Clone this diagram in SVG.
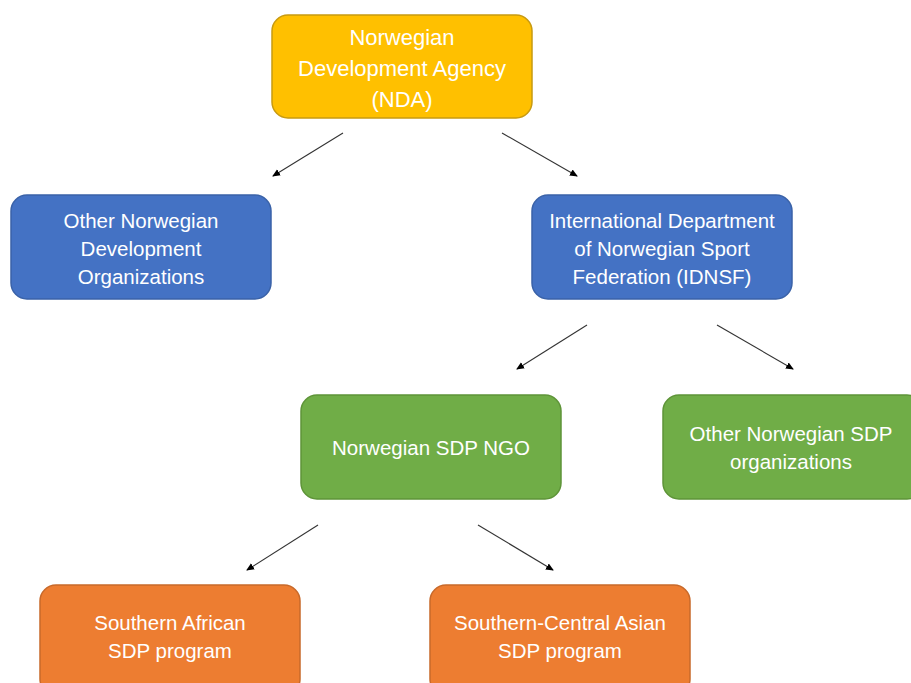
<svg xmlns="http://www.w3.org/2000/svg" width="911" height="683" viewBox="0 0 911 683">
<defs>
<marker id="ah" markerWidth="8" markerHeight="8" refX="7" refY="4" orient="auto" markerUnits="userSpaceOnUse">
<path d="M0,0.5 L8,4 L0,7.5 Z" fill="#000"/>
</marker>
</defs>
<style>
.box{stroke-width:1.5}
.y{fill:#FFC000;stroke:#C89A10}
.b{fill:#4472C4;stroke:#3A62A8}
.g{fill:#70AD47;stroke:#5E9438}
.o{fill:#ED7D31;stroke:#C8692A}
text{font-family:"Liberation Sans",Arial,sans-serif;fill:#fff;text-anchor:middle}
.t1{font-size:22px}
.t2{font-size:20.5px}
.c line{stroke:#333;stroke-width:1.1;marker-end:url(#ah)}
</style>
<rect width="911" height="683" fill="#fff"/>
<g id="nda">
<rect class="box y" x="272" y="15" width="260" height="103" rx="16"/>
<text class="t1" x="402" y="45">Norwegian</text>
<text class="t1" x="402" y="76">Development Agency</text>
<text class="t1" x="402" y="107">(NDA)</text>
</g>
<g id="otherdev">
<rect class="box b" x="11" y="195" width="260" height="104" rx="16"/>
<text class="t2" x="141" y="228">Other Norwegian</text>
<text class="t2" x="141" y="256">Development</text>
<text class="t2" x="141" y="284">Organizations</text>
</g>
<g id="idnsf">
<rect class="box b" x="532" y="195" width="260" height="104" rx="16"/>
<text class="t2" x="662" y="228">International Department</text>
<text class="t2" x="662" y="256">of Norwegian Sport</text>
<text class="t2" x="662" y="284">Federation (IDNSF)</text>
</g>
<g id="ngo">
<rect class="box g" x="301" y="395" width="260" height="104" rx="16"/>
<text class="t2" x="431" y="455">Norwegian SDP NGO</text>
</g>
<g id="othersdp">
<rect class="box g" x="663" y="395" width="260" height="104" rx="16"/>
<text class="t2" x="791" y="441">Other Norwegian SDP</text>
<text class="t2" x="791" y="469">organizations</text>
</g>
<g id="safrica">
<rect class="box o" x="40" y="585" width="260" height="110" rx="16"/>
<text class="t2" x="170" y="630">Southern African</text>
<text class="t2" x="170" y="658">SDP program</text>
</g>
<g id="sasia">
<rect class="box o" x="430" y="585" width="260" height="110" rx="16"/>
<text class="t2" x="560" y="630">Southern-Central Asian</text>
<text class="t2" x="560" y="658">SDP program</text>
</g>
<g class="c" id="connectors">
<line x1="343" y1="133" x2="273" y2="176"/>
<line x1="502" y1="133" x2="577" y2="176"/>
<line x1="587" y1="325" x2="517" y2="369"/>
<line x1="717" y1="325" x2="793" y2="369"/>
<line x1="318" y1="525" x2="247" y2="570"/>
<line x1="478" y1="525" x2="553" y2="570"/>
</g>
</svg>
